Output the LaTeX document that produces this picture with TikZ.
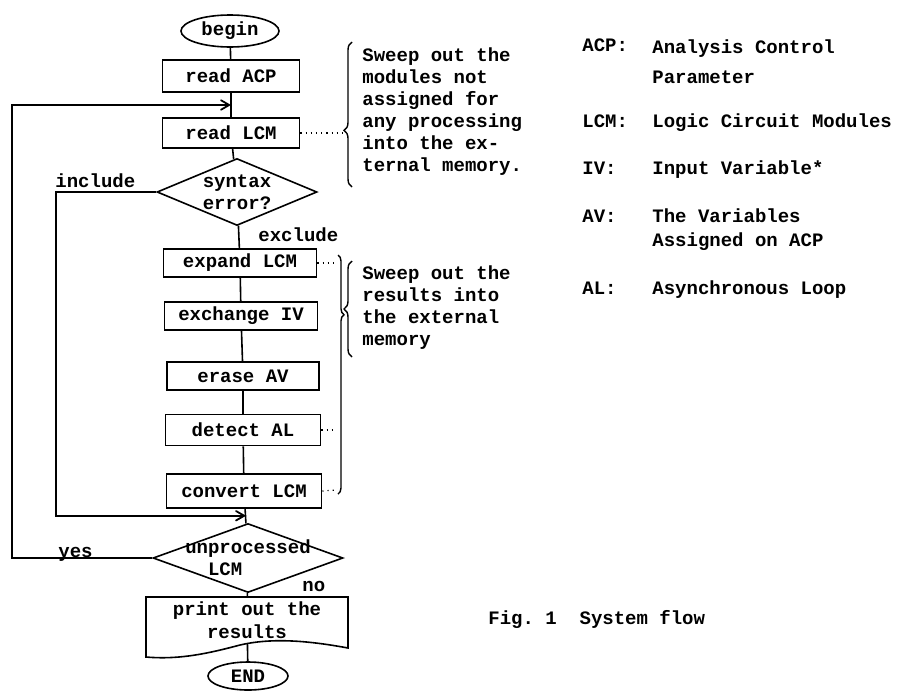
\documentclass[tikz,border=0pt]{standalone}
\usepackage{fontspec}
\setmonofont{Liberation Mono}
\usetikzlibrary{arrows,shapes.geometric,decorations.pathreplacing,calc}

\begin{document}
\begin{tikzpicture}[x=0.5pt,y=-0.5pt,
            every node/.style={align=center, font=\ttfamily\bfseries\fontsize{9.5}{11}\selectfont},
            proc/.style={draw, rectangle, line width=0.8pt, minimum height=14pt, inner sep=1pt},
            terminal/.style={draw, ellipse, line width=0.8pt, inner sep=1pt},
            decision/.style={draw, diamond, line width=0.8pt, inner sep=0pt},
            txt/.style={inner sep=0pt, align=left},
            link/.style={line width=0.8pt},
            to/.style={->,>=angle 60, line width=0.9pt},
            note/.style={dotted, line width=0.6pt},
            curly/.style={decorate, line width=0.7pt}
  ]
  \useasboundingbox (0,0) rectangle (898,691);

  % main column
  \node[terminal, minimum width=49pt, minimum height=16pt] (begin) at (230,31) {begin};
  \node[proc, minimum width=68.5pt, minimum height=16pt] (acp) at (231,76) {read ACP};
  \node[proc, minimum width=68.5pt, minimum height=15pt] (lcm) at (231,133) {read LCM};
  \node[decision, minimum width=80pt, minimum height=33.5pt,
        label={center:syntax\\error?}] (syn) at (237,192) {};
  \node[proc, minimum width=76.5pt] (expand) at (240,263) {expand LCM};
  \node[proc, minimum width=76.5pt] (exch) at (241,316) {exchange IV};
  \node[proc, minimum width=76pt] (erase) at (243,376) {erase AV};
  \node[proc, minimum width=77.5pt, minimum height=15.5pt] (detect) at (243,430) {detect AL};
  \node[proc, minimum width=77.5pt, minimum height=17pt] (convert) at (244,491) {convert LCM};
  \node[decision, minimum width=95pt, minimum height=34.5pt,
        label={[align=left]center:unprocessed\\\phantom{un}LCM}] (unproc) at (248,558) {};
  \node[inner sep=0pt, minimum width=101pt, minimum height=23pt,
        font=\ttfamily\bfseries\fontsize{9.5}{11.5}\selectfont] (print) at (247,620) {print out the\\results};
  \draw[link] (146,597) -- (348,597) -- (348,648)
        .. controls (305,640) and (270,638) .. (240,645)
        .. controls (210,653) and (180,660) .. (146,657) -- cycle;
  \node[terminal, minimum width=40pt, minimum height=14pt] (end) at (248,676) {END};

  \draw[link] (begin) -- (acp);
  \draw[link] (acp) -- (lcm);
  \draw[link] (lcm) -- (syn);
  \draw[link] (syn) -- (expand);
  \draw[link] (expand) -- (exch);
  \draw[link] (exch) -- (erase);
  \draw[link] (erase) -- (detect);
  \draw[link] (detect) -- (convert);
  \draw[link] (convert) -- (unproc);
  \draw[link] (unproc) -- (print);
  \draw[link] (print) -- (end);

  % loops
  \coordinate (jtop) at ($(acp.south)!0.5!(lcm.north)$);
  \coordinate (jbot) at ($(convert.south)!0.5!(unproc.north)$);
  \draw[to] (syn.west) -- ++(-100,0) |- (jbot);
  \draw[to] (unproc.west) -- ++(-140,0) |- (jtop);

  \node[txt, anchor=base west] (inc) at (55,187.5) {include};
  \node[txt, anchor=base west] (exc) at (258,241.5) {exclude};
  \node[txt, anchor=base west] (yes) at (58,557.5) {yes};
  \node[txt, anchor=base west] (no) at (302,591.5) {no};

  % remarks
  \coordinate (b1) at (345,133);
  \draw[note] (lcm.east) -- (b1);
  \draw[curly, decoration={brace, amplitude=4pt, aspect=0.39}] (352,187) -- (352,42);
  \node[txt, anchor=west] (sweep1) at (362,112)
    {Sweep out the\\modules not\\assigned for\\any processing\\into the ex-\\ternal memory.};

  \coordinate (b2) at (336,263);
  \coordinate (b3) at (336,430);
  \coordinate (b4) at (336,490);
  \draw[note] (expand.east) -- (b2);
  \draw[note] (detect.east) -- (b3);
  \draw[note] (convert.east) -- (b4);
  \draw[curly, decoration={brace, amplitude=3pt, aspect=0.25}] (338,255) -- (338,494);
  \draw[curly, decoration={brace, amplitude=4pt, aspect=0.5}] (352,357) -- (352,261);
  \node[txt, anchor=west] (sweep2) at (362,308)
    {Sweep out the\\results into\\the external\\memory};

  % legend
  \node[txt, anchor=base west] (kacp) at (582,51.5) {ACP:};
  \node[txt, anchor=west] (vacp) at (652,62) {Analysis Control\\[4pt]Parameter};
  \node[txt, anchor=base west] (klcm) at (582,127.5) {LCM:};
  \node[txt, anchor=base west] (vlcm) at (652,127.5) {Logic Circuit Modules};
  \node[txt, anchor=base west] (kiv) at (582,174.5) {IV:};
  \node[txt, anchor=base west] (viv) at (652,174.5) {Input Variable*};
  \node[txt, anchor=base west] (kav) at (582,222.5) {AV:};
  \node[txt, anchor=west] (vav) at (652,230) {The Variables\\[1pt]Assigned on ACP};
  \node[txt, anchor=base west] (kal) at (582,294.5) {AL:};
  \node[txt, anchor=base west] (val) at (652,294.5) {Asynchronous Loop};

  \node[txt, anchor=base west] (fig) at (488,624.5) {Fig. 1~~System flow};

\end{tikzpicture}
\end{document}
